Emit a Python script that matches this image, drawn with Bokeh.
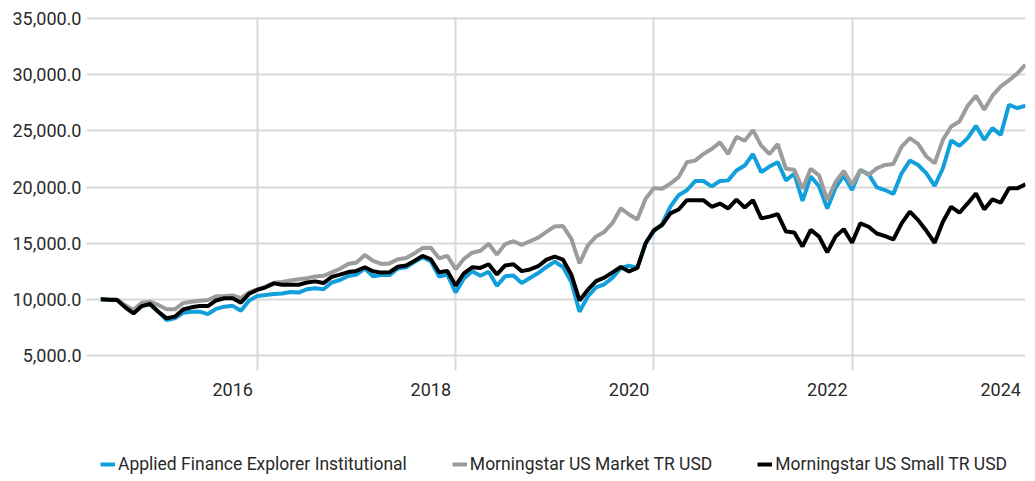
import pandas as pd
from bokeh.plotting import figure
from bokeh.layouts import column
from bokeh.models import (Range1d, FixedTicker, NumeralTickFormatter, Legend, LegendItem,
                          ColumnDataSource)
from bokeh.embed import file_html
from bokeh.resources import INLINE

# ---- data (growth of 10,000, month-end values) ----
months = pd.date_range("2015-05-31", periods=113, freq="ME")

fund = [
    10000, 9960, 9940, 9400, 8900, 9500, 9580, 8900, 8160, 8310,
    8800, 8900, 8900, 8690, 9150, 9350, 9420, 8980, 9900, 10300,
    10390, 10470, 10520, 10650, 10600, 10900, 10980, 10900, 11500, 11720,
    12080, 12200, 12750, 12050, 12160, 12160, 12750, 12860, 13320, 13750,
    13380, 12020, 12200, 10620, 11860, 12500, 12100, 12450, 11200, 12050,
    12120, 11460, 11900, 12340, 12880, 13360, 12880, 11570, 8900, 10250,
    11060, 11340, 11930, 12800, 12990, 12800, 15000, 16060, 16690, 18250,
    19270, 19710, 20530, 20530, 20060, 20530, 20590, 21470, 21910, 22940,
    21320, 21820, 22210, 20590, 21180, 18770, 20940, 20060, 18090, 19940,
    21030, 19730, 21520, 21160, 19970, 19730, 19380, 21220, 22350, 21960,
    21220, 20090, 21670, 24140, 23660, 24350, 25450, 24200, 25240, 24640,
    27320, 27020, 27230]

market = [
    10000, 9990, 9980, 9470, 9050, 9700, 9790, 9500, 9110, 9110,
    9660, 9790, 9880, 9940, 10270, 10300, 10350, 10100, 10620, 10890,
    11130, 11480, 11550, 11670, 11790, 11880, 12030, 12090, 12400, 12720,
    13150, 13280, 13950, 13420, 13150, 13200, 13570, 13680, 14090, 14570,
    14600, 13650, 13870, 12680, 13600, 14150, 14330, 14950, 13980, 14920,
    15170, 14850, 15170, 15500, 16000, 16490, 16520, 15400, 13200, 14780,
    15600, 16000, 16800, 18100, 17550, 17100, 18950, 19900, 19850, 20300,
    20880, 22200, 22350, 22940, 23380, 23970, 22940, 24470, 24120, 25060,
    23680, 22940, 23820, 21620, 21530, 19850, 21620, 21030, 18830, 20440,
    21420, 20180, 21520, 21070, 21670, 21960, 22050, 23600, 24350, 23840,
    22710, 22110, 24200, 25390, 25830, 27230, 28130, 26880, 28130, 28960,
    29490, 30090, 30900]

small = [
    10000, 9970, 9940, 9290, 8750, 9400, 9580, 8900, 8310, 8460,
    9100, 9290, 9400, 9400, 9900, 10100, 10100, 9700, 10500, 10850,
    11070, 11420, 11300, 11300, 11300, 11500, 11600, 11450, 12000, 12200,
    12430, 12530, 12860, 12500, 12380, 12410, 12900, 13020, 13420, 13870,
    13570, 12410, 12530, 11220, 12310, 12850, 12800, 13120, 12220, 13020,
    13120, 12510, 12660, 12950, 13530, 13800, 13530, 12220, 9900, 10840,
    11630, 11930, 12400, 12880, 12480, 12800, 14990, 16150, 16620, 17650,
    18000, 18830, 18830, 18830, 18240, 18530, 18090, 18880, 18180, 18830,
    17210, 17360, 17590, 16030, 15950, 14710, 16180, 15590, 14180, 15590,
    16250, 15030, 16760, 16460, 15860, 15630, 15330, 16760, 17800, 17050,
    16100, 15030, 16910, 18240, 17710, 18540, 19430, 18010, 18900, 18600,
    19880, 19880, 20240]

series_names = ["Applied Finance Explorer Institutional",
                "Morningstar US Market TR USD",
                "Morningstar US Small TR USD"]
y_ticks = [5000, 10000, 15000, 20000, 25000, 30000, 35000]
label_years = [2016, 2018, 2020, 2022]

# ---- styling ----
BLUE = "#11a0dc"
GRAY = "#9c9c9c"
BLACK = "#000000"
GRID = "#d9d9d9"
TEXT = "#2a2a2a"
FONT = "Roboto"
COLORS = [BLUE, GRAY, BLACK]

idx = list(range(len(months)))
src = ColumnDataSource(dict(x=idx, fund=fund, market=market, small=small))

# grid ticks at year ends + last month; labels placed left of their tick
grid_ticks = [0] + [int(i) for i, m in enumerate(months) if m.month == 12 and m.year in label_years] + [idx[-1]]
label_ticks = [t - 3 for t in grid_ticks[1:]]
label_text = [str(y) for y in label_years] + [str(months[-1].year)]

p = figure(width=1033, height=400, output_backend="svg", toolbar_location=None,
           x_range=Range1d(0, idx[-1]), y_range=Range1d(3665, 35178),
           min_border_left=100, min_border_right=8, min_border_top=16, min_border_bottom=30)
p.outline_line_color = None
p.background_fill_color = "white"
p.border_fill_color = "white"

# grid
p.xgrid.ticker = FixedTicker(ticks=grid_ticks)
p.ygrid.ticker = FixedTicker(ticks=y_ticks)
for g in (p.xgrid, p.ygrid):
    g.grid_line_color = GRID
    g.grid_line_width = 2

# y axis
ya = p.yaxis[0]
ya.ticker = FixedTicker(ticks=y_ticks)
ya.formatter = NumeralTickFormatter(format="0,0.0")
ya.axis_line_color = None
ya.major_tick_in = 0
ya.major_tick_out = 14
ya.major_tick_line_color = GRID
ya.major_tick_line_width = 2
ya.minor_tick_line_color = None
ya.major_label_standoff = 5
ya.major_label_text_font = FONT
ya.major_label_text_font_size = "18px"
ya.major_label_text_color = TEXT

# x axis
xa = p.xaxis[0]
xa.ticker = FixedTicker(ticks=label_ticks)
xa.major_label_overrides = {t: s for t, s in zip(label_ticks, label_text)}
xa.axis_line_color = None
xa.major_tick_line_color = None
xa.minor_tick_line_color = None
xa.major_label_standoff = 6
xa.major_label_text_font = FONT
xa.major_label_text_font_size = "18px"
xa.major_label_text_color = TEXT

for col, c in zip(["fund", "market", "small"], COLORS):
    p.line("x", col, source=src, line_color=c, line_width=4)

# ---- legend strip below the chart ----
leg = figure(width=1033, height=78, output_backend="svg", toolbar_location=None,
             x_range=Range1d(0, 1), y_range=Range1d(0, 1),
             x_axis_location=None, y_axis_location=None,
             min_border=0, min_border_left=0, min_border_right=0,
             min_border_top=0, min_border_bottom=0)
leg.grid.visible = False
leg.outline_line_color = None
leg_items = []
for name, c in zip(series_names, COLORS):
    r = leg.line(x=[float("nan")], y=[float("nan")], line_color=c, line_width=4)
    leg_items.append(LegendItem(label=name, renderers=[r]))

legend = Legend(items=leg_items, orientation="horizontal", location=(0, 4),
                glyph_width=15, glyph_height=16, label_height=16, label_standoff=3,
                label_width=0, spacing=45, padding=0, margin=0,
                border_line_color=None, background_fill_alpha=0,
                label_text_font=FONT, label_text_font_size="17.5px",
                label_text_color=TEXT)
leg.add_layout(legend, "center")

layout = column(p, leg, spacing=0)
open("out.html", "w").write(file_html(layout, INLINE))
